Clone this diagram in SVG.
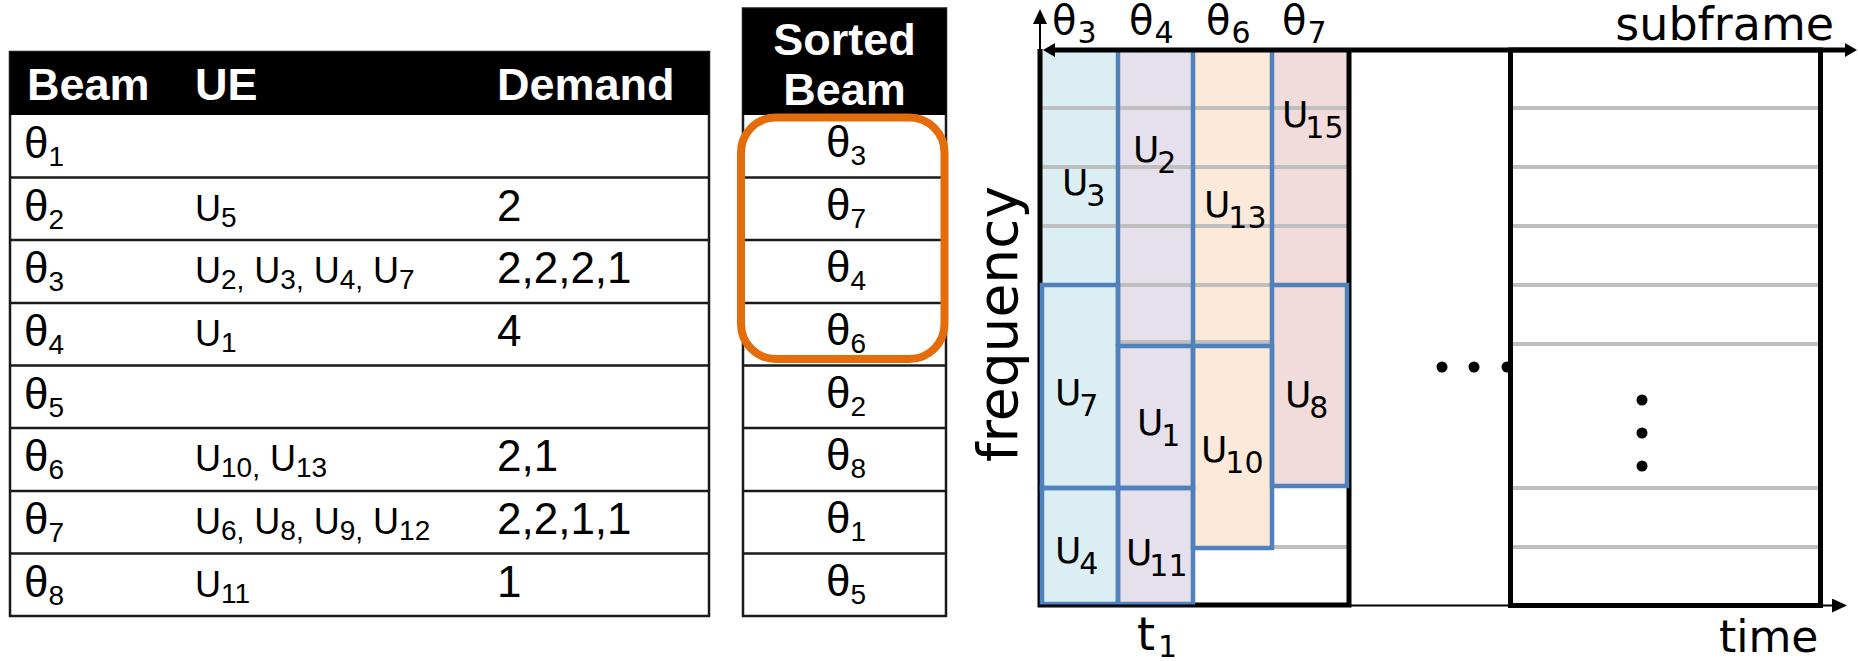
<svg xmlns="http://www.w3.org/2000/svg" width="1858" height="661" viewBox="0 0 1858 661">
<defs>
<style>
.tl{font-family:"Liberation Sans",Arial,sans-serif;fill:#000}
.hd{font-weight:bold;font-size:45px;fill:#fff}
.th{font-size:44px}
.ue{font-size:36px}
.dm{font-size:44px}
.s{font-size:28px}
.gl{font-family:"DejaVu Sans","Liberation Sans",sans-serif;fill:#000}
.gu{font-size:36px}
.gt{font-size:40px}
.gs{font-size:30px}
.ax{font-size:46px}
.rl{stroke:#1a1a1a;stroke-width:2.5}
.tbl{fill:#fff;stroke:#1a1a1a;stroke-width:2.5}
.gray{stroke:#BFBFBF;stroke-width:4}
.blue{fill:none;stroke:#4F81BD;stroke-width:4.5}
.blk{stroke:#000;stroke-width:5;fill:none}
</style>
<marker id="headThick" viewBox="0 0 12 14" refX="2" refY="7" markerWidth="12" markerHeight="14" markerUnits="userSpaceOnUse" orient="auto-start-reverse"><path d="M0,0 L12,7 L0,14 z" fill="#000"/></marker>
<marker id="headThin" viewBox="0 0 15 14" refX="2" refY="7" markerWidth="15" markerHeight="14" markerUnits="userSpaceOnUse" orient="auto"><path d="M0,0 L15,7 L0,14 z" fill="#000"/></marker>
</defs>
<rect width="1858" height="661" fill="#fff"/>

<g id="beam-table">
<rect class="tbl" x="10" y="52" width="699" height="564"/>
<rect x="10" y="52" width="699" height="63" fill="#000"/>
<line class="rl" x1="10" y1="177.5" x2="709" y2="177.5"/>
<line class="rl" x1="10" y1="240" x2="709" y2="240"/>
<line class="rl" x1="10" y1="303" x2="709" y2="303"/>
<line class="rl" x1="10" y1="365.5" x2="709" y2="365.5"/>
<line class="rl" x1="10" y1="428" x2="709" y2="428"/>
<line class="rl" x1="10" y1="491" x2="709" y2="491"/>
<line class="rl" x1="10" y1="553.5" x2="709" y2="553.5"/>
<text class="tl hd" x="27" y="100">Beam</text>
<text class="tl hd" x="195" y="100">UE</text>
<text class="tl hd" x="497" y="100">Demand</text>
<text class="tl th" x="24" y="158">θ<tspan class="s" dy="8">1</tspan></text>
<text class="tl th" x="24" y="220.5">θ<tspan class="s" dy="8">2</tspan></text>
<text class="tl th" x="24" y="283">θ<tspan class="s" dy="8">3</tspan></text>
<text class="tl th" x="24" y="346">θ<tspan class="s" dy="8">4</tspan></text>
<text class="tl th" x="24" y="408.5">θ<tspan class="s" dy="8">5</tspan></text>
<text class="tl th" x="24" y="471">θ<tspan class="s" dy="8">6</tspan></text>
<text class="tl th" x="24" y="534">θ<tspan class="s" dy="8">7</tspan></text>
<text class="tl th" x="24" y="596.5">θ<tspan class="s" dy="8">8</tspan></text>
<text class="tl ue" x="195" y="221">U<tspan class="s" dy="6">5</tspan></text>
<text class="tl ue" x="195" y="283">U<tspan class="s" dy="6">2,</tspan><tspan dy="-6"> U</tspan><tspan class="s" dy="6">3,</tspan><tspan dy="-6"> U</tspan><tspan class="s" dy="6">4,</tspan><tspan dy="-6"> U</tspan><tspan class="s" dy="6">7</tspan></text>
<text class="tl ue" x="195" y="346">U<tspan class="s" dy="6">1</tspan></text>
<text class="tl ue" x="195" y="471">U<tspan class="s" dy="6">10,</tspan><tspan dy="-6"> U</tspan><tspan class="s" dy="6">13</tspan></text>
<text class="tl ue" x="195" y="534">U<tspan class="s" dy="6">6,</tspan><tspan dy="-6"> U</tspan><tspan class="s" dy="6">8,</tspan><tspan dy="-6"> U</tspan><tspan class="s" dy="6">9,</tspan><tspan dy="-6"> U</tspan><tspan class="s" dy="6">12</tspan></text>
<text class="tl ue" x="195" y="596.5">U<tspan class="s" dy="6">11</tspan></text>
<text class="tl dm" x="497" y="221">2</text>
<text class="tl dm" x="497" y="283">2,2,2,1</text>
<text class="tl dm" x="497" y="346">4</text>
<text class="tl dm" x="497" y="471">2,1</text>
<text class="tl dm" x="497" y="534">2,2,1,1</text>
<text class="tl dm" x="497" y="596.5">1</text>
</g>

<g id="sorted-table">
<rect class="tbl" x="743" y="8.5" width="203" height="607.5"/>
<rect x="743" y="8.5" width="203" height="106.5" fill="#000"/>
<line class="rl" x1="743" y1="177.5" x2="946" y2="177.5"/>
<line class="rl" x1="743" y1="240" x2="946" y2="240"/>
<line class="rl" x1="743" y1="303" x2="946" y2="303"/>
<line class="rl" x1="743" y1="365.5" x2="946" y2="365.5"/>
<line class="rl" x1="743" y1="428" x2="946" y2="428"/>
<line class="rl" x1="743" y1="491" x2="946" y2="491"/>
<line class="rl" x1="743" y1="553.5" x2="946" y2="553.5"/>
<text class="tl hd" x="844.5" y="55" text-anchor="middle">Sorted</text>
<text class="tl hd" x="844.5" y="105" text-anchor="middle">Beam</text>
<text class="tl th" x="846" y="157" text-anchor="middle">θ<tspan class="s" dy="8">3</tspan></text>
<text class="tl th" x="846" y="219.5" text-anchor="middle">θ<tspan class="s" dy="8">7</tspan></text>
<text class="tl th" x="846" y="282" text-anchor="middle">θ<tspan class="s" dy="8">4</tspan></text>
<text class="tl th" x="846" y="345" text-anchor="middle">θ<tspan class="s" dy="8">6</tspan></text>
<text class="tl th" x="846" y="407.5" text-anchor="middle">θ<tspan class="s" dy="8">2</tspan></text>
<text class="tl th" x="846" y="470" text-anchor="middle">θ<tspan class="s" dy="8">8</tspan></text>
<text class="tl th" x="846" y="533" text-anchor="middle">θ<tspan class="s" dy="8">1</tspan></text>
<text class="tl th" x="846" y="595.5" text-anchor="middle">θ<tspan class="s" dy="8">5</tspan></text>
</g>

<g id="selected-beams">
<rect x="741" y="117.5" width="203.5" height="241.5" rx="35" ry="35" fill="none" stroke="#E46C0A" stroke-width="8"/>
</g>

<g id="frequency-label">
<text class="gl" font-size="55" transform="translate(1017,324) rotate(-90)" text-anchor="middle">frequency</text>
</g>

<g id="subframe-1">
<rect x="1042" y="49" width="76" height="556" fill="#DAEEF3"/>
<rect x="1118" y="49" width="75" height="556" fill="#E5E0EC"/>
<rect x="1193" y="49" width="79" height="499" fill="#FDE9D9"/>
<rect x="1272" y="49" width="77" height="438" fill="#F2DCDB"/>
<line class="gray" x1="1042" y1="108" x2="1347" y2="108"/>
<line class="gray" x1="1042" y1="167" x2="1347" y2="167"/>
<line class="gray" x1="1042" y1="226" x2="1347" y2="226"/>
<line class="gray" x1="1118" y1="285" x2="1272" y2="285"/>
<line class="gray" x1="1118" y1="342" x2="1272" y2="342"/>
<line class="gray" x1="1272" y1="547" x2="1347" y2="547"/>
<line class="blue" x1="1118" y1="49" x2="1118" y2="346"/>
<line class="blue" x1="1193" y1="49" x2="1193" y2="346"/>
<line class="blue" x1="1272" y1="49" x2="1272" y2="285"/>
<path class="blk" d="M1040,49 V605 H1349 V49"/>
</g>

<g id="ue-blocks">
<rect class="blue" x="1042" y="285" width="76" height="203"/>
<rect class="blue" x="1042" y="488" width="76" height="116"/>
<rect class="blue" x="1118" y="346" width="75" height="142"/>
<rect class="blue" x="1118" y="488" width="75" height="116"/>
<rect class="blue" x="1193" y="346" width="79" height="202"/>
<rect class="blue" x="1272" y="285" width="75" height="201"/>
</g>

<g id="ue-labels">
<text class="gl gu" x="1062" y="195">U<tspan class="gs" dx="-2" dy="11">3</tspan></text>
<text class="gl gu" x="1133" y="162">U<tspan class="gs" dx="-2" dy="11">2</tspan></text>
<text class="gl gu" x="1204" y="217">U<tspan class="gs" dx="-2" dy="11">13</tspan></text>
<text class="gl gu" x="1282" y="127">U<tspan class="gs" dx="-3" dy="11">15</tspan></text>
<text class="gl gu" x="1055" y="405">U<tspan class="gs" dx="-2" dy="11">7</tspan></text>
<text class="gl gu" x="1137" y="435">U<tspan class="gs" dx="-2" dy="11">1</tspan></text>
<text class="gl gu" x="1201" y="462">U<tspan class="gs" dx="-2" dy="11">10</tspan></text>
<text class="gl gu" x="1285" y="407">U<tspan class="gs" dx="-2" dy="11">8</tspan></text>
<text class="gl gu" x="1055" y="563">U<tspan class="gs" dx="-2" dy="11">4</tspan></text>
<text class="gl gu" x="1126" y="565">U<tspan class="gs" dx="-3" dy="11">11</tspan></text>
</g>

<g id="beam-labels">
<text class="gl gt" x="1052" y="34">θ<tspan class="gs" dx="1" dy="9">3</tspan></text>
<text class="gl gt" x="1129" y="34">θ<tspan class="gs" dx="1" dy="9">4</tspan></text>
<text class="gl gt" x="1206" y="34">θ<tspan class="gs" dx="1" dy="9">6</tspan></text>
<text class="gl gt" x="1282" y="34">θ<tspan class="gs" dx="1" dy="9">7</tspan></text>
<text class="gl" font-size="46" x="1137" y="650">t<tspan class="gs" dx="3" dy="7">1</tspan></text>
</g>

<g id="subframe-n">
<line class="gray" x1="1513" y1="108" x2="1818" y2="108"/>
<line class="gray" x1="1513" y1="167" x2="1818" y2="167"/>
<line class="gray" x1="1513" y1="226" x2="1818" y2="226"/>
<line class="gray" x1="1513" y1="285" x2="1818" y2="285"/>
<line class="gray" x1="1513" y1="344" x2="1818" y2="344"/>
<line class="gray" x1="1513" y1="488" x2="1818" y2="488"/>
<line class="gray" x1="1513" y1="547" x2="1818" y2="547"/>
<rect class="blk" x="1510.5" y="50" width="310" height="555.5"/>
<circle cx="1642" cy="400" r="5.5"/>
<circle cx="1642" cy="433" r="5.5"/>
<circle cx="1642" cy="466" r="5.5"/>
</g>

<g id="gap-dots">
<circle cx="1442" cy="367" r="5.5"/>
<circle cx="1474" cy="367" r="5.5"/>
<circle cx="1507" cy="367" r="5.5"/>
</g>

<g id="connectors">
<line x1="1053" y1="50" x2="1847" y2="50" stroke="#000" stroke-width="5" marker-start="url(#headThick)" marker-end="url(#headThick)"/>
<line x1="1040" y1="49" x2="1040" y2="22" stroke="#000" stroke-width="2" marker-end="url(#headThin)"/>
<line x1="1040" y1="605.5" x2="1834" y2="605.5" stroke="#000" stroke-width="2" marker-end="url(#headThin)"/>
</g>

<g id="axis-labels">
<text class="gl ax" x="1834" y="40" text-anchor="end">subframe</text>
<text class="gl" font-size="44" x="1719" y="652">time</text>
</g>
</svg>
